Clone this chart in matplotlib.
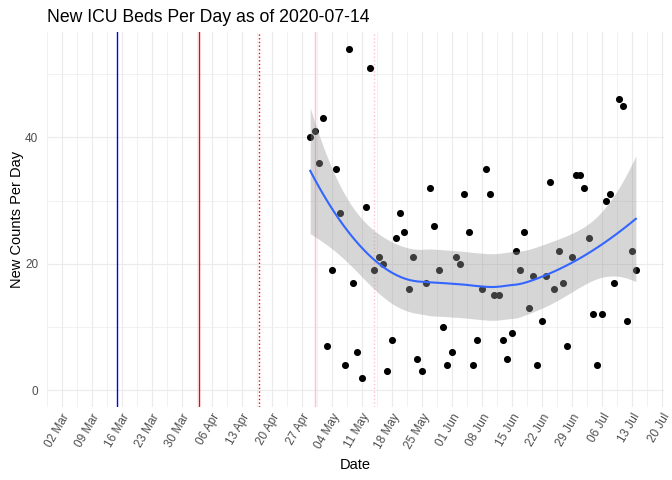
import numpy as np
import matplotlib
matplotlib.use('Agg')
import matplotlib.pyplot as plt
import matplotlib.dates as mdates
from matplotlib import rcParams
rcParams['font.family'] = ['Liberation Sans', 'DejaVu Sans']

# daily new ICU beds, 2020-04-29 .. 2020-07-14
start = np.datetime64('2020-04-29')
counts = [40, 41, 36, 43, 7, 19, 35, 28, 4, 54, 17, 6, 2, 29, 51, 19, 21, 20,
          3, 8, 24, 28, 25, 16, 21, 5, 3, 17, 32, 26, 19, 10, 4, 6, 21, 20,
          31, 25, 4, 8, 16, 35, 31, 15, 15, 8, 5, 9, 22, 19, 25, 13, 18, 4,
          11, 18, 33, 16, 22, 17, 7, 21, 34, 34, 32, 24, 12, 4, 12, 30, 31,
          17, 46, 45, 11, 22, 19]
dates = start + np.arange(len(counts))

# event lines
vlines = [('2020-03-15', 'blue', '-'),
          ('2020-04-03', 'red', '-'),
          ('2020-04-17', 'red', ':'),
          ('2020-04-30', 'pink', '-'),
          ('2020-05-14', 'pink', ':')]

title = 'New ICU Beds Per Day as of 2020-07-14'


def loess(x, y, xs, span=0.75):
    # local quadratic fit with tricube weights, like R's loess defaults
    n = len(x)
    q = int(np.floor(n * span))

    def row(x0):
        d = np.abs(x - x0)
        h = np.sort(d)[q - 1]
        w = np.clip(1 - (d / h) ** 3, 0, None) ** 3
        X = np.vstack([np.ones(n), x - x0, (x - x0) ** 2]).T
        A = X.T @ (X * w[:, None])
        return np.linalg.solve(A, (X * w[:, None]).T)[0]

    L = np.array([row(v) for v in x])
    res = y - L @ y
    M = (np.eye(n) - L).T @ (np.eye(n) - L)
    d1 = np.trace(M)
    d2 = np.trace(M @ M)
    sigma = np.sqrt(np.sum(res ** 2) / d1)
    Ls = np.array([row(v) for v in xs])
    fit = Ls @ y
    se = sigma * np.sqrt(np.sum(Ls ** 2, axis=1))
    nu = d1 ** 2 / d2
    z = 1.959964
    t = z + (z**3 + z) / (4 * nu) + (5 * z**5 + 16 * z**3 + 3 * z) / (96 * nu**2)
    return fit, fit - t * se, fit + t * se


def dnum(s):
    return mdates.date2num(np.datetime64(s).astype(object))


x = mdates.date2num(dates.astype('datetime64[D]').astype(object))
y = np.array(counts, dtype=float)
xs = np.linspace(x.min(), x.max(), 80)
fit, lo, hi = loess(x, y, xs)

fig = plt.figure(figsize=(6.72, 4.8), dpi=100)
ax = fig.add_axes([0.0695, 0.1515, 0.9185, 0.7825])

for d, c, ls in vlines:
    ax.axvline(dnum(d), color=c, ls=ls, lw=1.0, zorder=1)

ax.scatter(x, y, s=26, color='black', zorder=2, linewidths=0)
ax.fill_between(xs, lo, hi, color='#999999', alpha=0.4, lw=0, zorder=3)
ax.plot(xs, fit, color='#3366FF', lw=1.5, zorder=4)

ax.set_xlim(dnum('2020-02-27') + 0.5, dnum('2020-07-20') + 0.55)
ax.set_ylim(-2.7, 56.7)

ax.xaxis.set_major_locator(mdates.WeekdayLocator(byweekday=mdates.MO))
ax.xaxis.set_major_formatter(mdates.DateFormatter('%d %b'))
# minor x grid midway between Mondays (Thursday noon)
mids = [dnum('2020-02-27T12') + 7 * i for i in range(21)]
ax.set_xticks(mids, minor=True)
ax.set_yticks([0, 20, 40])
ax.set_yticks([10, 30, 50], minor=True)

ax.grid(which='major', color='#EBEBEB', lw=0.8, zorder=0)
ax.grid(which='minor', color='#EBEBEB', lw=0.5, zorder=0)
ax.set_axisbelow(True)
for s in ax.spines.values():
    s.set_visible(False)
ax.tick_params(which='both', length=0)
ax.tick_params(axis='y', labelsize=8.45, labelcolor='#4D4D4D', pad=6)
ax.tick_params(axis='x', labelsize=8.45, labelcolor='#4D4D4D', pad=3)
for lab in ax.get_xticklabels():
    lab.set_rotation(60)
    lab.set_ha('right')
    lab.set_va('top')
    lab.set_rotation_mode('anchor')

ax.set_xlabel('Date', fontsize=10.56, labelpad=5)
ax.set_ylabel('New Counts Per Day', fontsize=10.56, labelpad=1)
ax.set_title(title, fontsize=12.67, loc='left', pad=7)

fig.savefig('out.png', dpi=100)
